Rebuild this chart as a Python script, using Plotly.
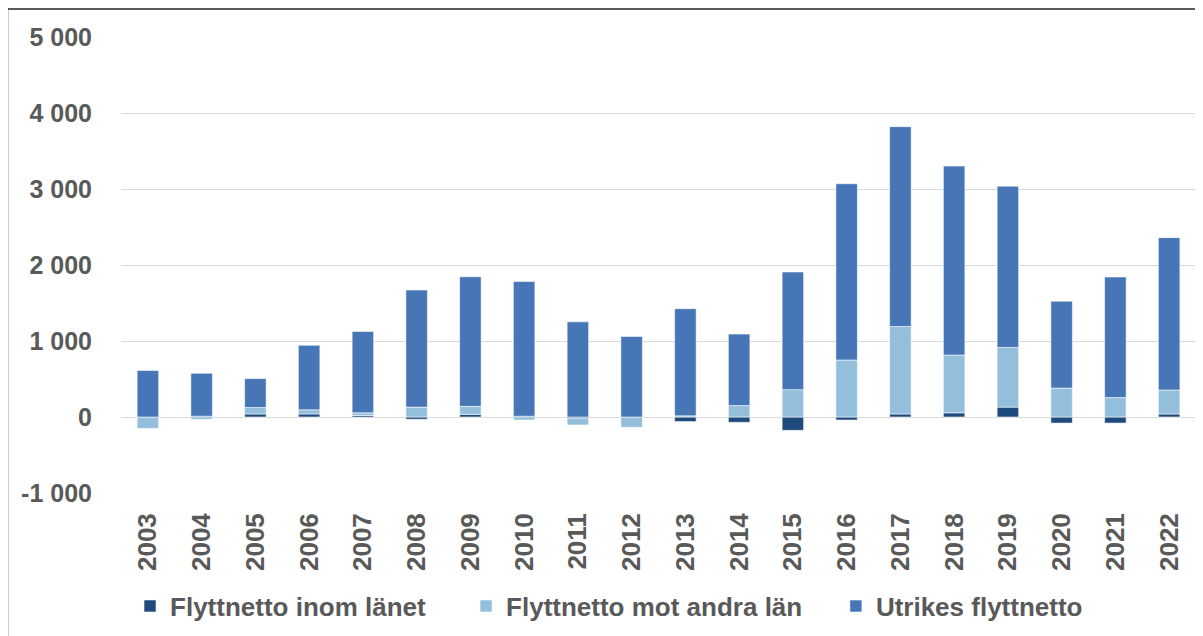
import plotly.graph_objects as go

years = [str(y) for y in range(2003, 2023)]
inom_lanet = [0, 10, 40, 40, 20, -30, 35, 10, -15, 0, -60, -70, -175, -40, 40, 55, 130, -80, -80, 40]
mot_andra_lan = [-150, -30, 85, 55, 35, 130, 105, -40, -90, -135, 15, 150, 360, 750, 1150, 760, 785, 380, 255, 315]
utrikes = [612, 565, 380, 848, 1070, 1540, 1705, 1772, 1252, 1060, 1410, 941, 1548, 2319, 2630, 2487, 2122, 1144, 1587, 2005]

y_tickvals = [-1000, 0, 1000, 2000, 3000, 4000, 5000]
y_ticktext = ["-1 000", "0", "1 000", "2 000", "3 000", "4 000", "5 000"]

names = ["Flyttnetto inom länet", "Flyttnetto mot andra län", "Utrikes flyttnetto"]
colors = ["#1F4A7E", "#93BFDD", "#4676B5"]

FONT = "Liberation Sans, Arial, sans-serif"
TXT = "#595959"

fig = go.Figure()
for i, (vals, nm, col) in enumerate(zip([inom_lanet, mot_andra_lan, utrikes], names, colors)):
    fig.add_trace(go.Bar(
        x=years, y=vals, name=nm, showlegend=True,
        marker=dict(color=col, line=dict(color="rgba(255,255,255,0.55)", width=1)),
        legend="legend" if i == 0 else f"legend{i+1}",
    ))

legend_common = dict(orientation="h", yanchor="middle", y=-0.248, xanchor="left",
                     bgcolor="rgba(0,0,0,0)", borderwidth=0,
                     font=dict(family=FONT, size=26, color=TXT, weight="bold"))

# the page adds an 8px body margin, so the figure is sized to fit the window
fig.update_layout(
    width=1195, height=628,
    showlegend=True,
    margin=dict(l=113, r=7, t=29, b=140),
    paper_bgcolor="white", plot_bgcolor="white",
    barmode="relative", bargap=0.6,
    font=dict(family=FONT, size=25, color=TXT, weight="bold"),
    legend=dict(x=0.0084, **legend_common),
    legend2=dict(x=0.321, **legend_common),
    legend3=dict(x=0.665, **legend_common),
    xaxis=dict(type="category", tickangle=-90, showgrid=False, showline=False, ticks="",
               tickfont=dict(family=FONT, size=26, color=TXT, weight="bold"),
               ticklabelstandoff=14),
    yaxis=dict(range=[-1000, 5000], tickvals=y_tickvals, ticktext=y_ticktext,
               showgrid=True, gridcolor="#D9D9D9", gridwidth=1,
               zeroline=True, zerolinecolor="#D9D9D9", zerolinewidth=1,
               showline=False, ticks="",
               tickfont=dict(family=FONT, size=25, color=TXT, weight="bold"),
               ticklabelstandoff=28),
    shapes=[dict(type="rect", xref="paper", yref="paper",
                 x0=-0.1056, x1=1.03, y0=-0.35, y1=1.0615,
                 line=dict(color="#262626", width=1.5), fillcolor="rgba(0,0,0,0)", layer="above")],
)

fig.write_html("out.html")
